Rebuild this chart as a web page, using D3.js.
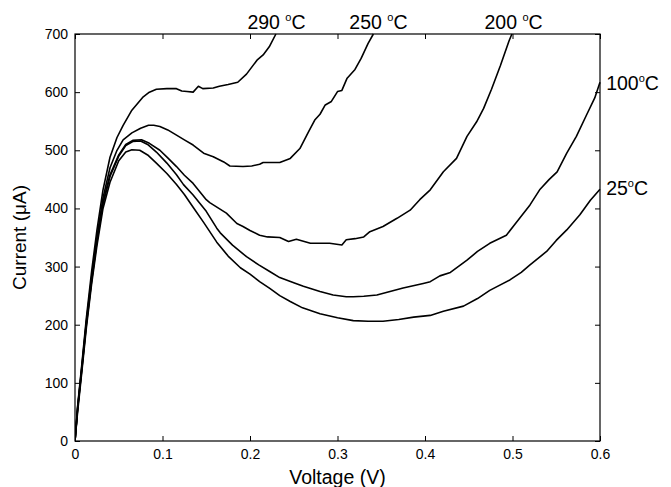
<!DOCTYPE html>
<html>
<head>
<meta charset="utf-8">
<script src="https://cdn.jsdelivr.net/npm/d3@7"></script>
<style>
  body { margin: 0; background: #fff; }
  text { font-family: "Liberation Sans", Arial, sans-serif; fill: #000; }
</style>
</head>
<body>
<div id="chart"></div>
<script>
// data: [voltage (V), current (uA)]
var curve25 = [[0,0],[0.003,50],[0.008,122],[0.013,195],[0.019,270],[0.025,335],[0.032,400],[0.04,445],
  [0.05,482],[0.058,497],[0.065,501],[0.074,500],[0.083,492],[0.093,478],[0.105,460],[0.116,441],
  [0.125,424],[0.135,402],[0.147,376],[0.162,342],[0.175,318],[0.189,298],[0.2,287],[0.211,274],
  [0.223,262],[0.234,250],[0.246,240],[0.26,229],[0.28,219],[0.3,212],[0.318,207],[0.335,206],
  [0.352,206],[0.37,209],[0.387,213],[0.406,216],[0.421,223],[0.444,232],[0.46,245],[0.474,259],
  [0.497,277],[0.51,290],[0.52,303],[0.539,326],[0.55,345],[0.562,363],[0.577,389],[0.589,414],[0.6,433]];

var curve100 = [[0,0],[0.003,55],[0.008,126],[0.013,200],[0.019,275],[0.025,342],[0.032,408],[0.04,455],
  [0.05,490],[0.058,508],[0.066,515],[0.075,516],[0.083,510],[0.093,497],[0.105,478],[0.116,458],
  [0.124,441],[0.135,423],[0.15,395],[0.162,366],[0.166,358],[0.18,337],[0.196,317],[0.21,303],
  [0.223,291],[0.234,281],[0.25,272],[0.261,266],[0.28,257],[0.295,251],[0.31,248],[0.318,248],
  [0.33,249],[0.345,251],[0.36,257],[0.375,263],[0.398,271],[0.406,274],[0.417,284],[0.429,290],
  [0.448,311],[0.46,326],[0.474,340],[0.493,354],[0.505,377],[0.52,406],[0.531,432],[0.542,450],
  [0.551,463],[0.562,495],[0.573,524],[0.585,562],[0.594,590],[0.6,617]];

var curve200 = [[0,0],[0.003,56],[0.008,128],[0.013,203],[0.019,278],[0.025,345],[0.032,410],[0.04,458],
  [0.05,492],[0.058,510],[0.066,517],[0.076,518],[0.085,512],[0.097,500],[0.106,487],[0.116,472],
  [0.125,457],[0.135,443],[0.15,415],[0.154,410],[0.173,392],[0.185,374],[0.192,369],[0.2,362],
  [0.211,354],[0.22,351],[0.234,350],[0.244,343],[0.253,347],[0.269,340],[0.28,340],[0.291,340],
  [0.305,337],[0.31,346],[0.32,348],[0.33,351],[0.337,360],[0.352,369],[0.368,383],[0.383,397],
  [0.394,415],[0.406,432],[0.421,463],[0.436,486],[0.448,524],[0.459,549],[0.467,572],[0.476,605],
  [0.486,645],[0.496,688],[0.4993,700]];

var curve250 = [[0,0],[0.003,58],[0.008,131],[0.013,206],[0.019,282],[0.025,350],[0.032,418],[0.04,470],
  [0.048,500],[0.055,518],[0.065,530],[0.075,538],[0.084,543],[0.09,543],[0.097,541],[0.106,535],
  [0.116,526],[0.125,518],[0.135,509],[0.147,495],[0.158,489],[0.17,480],[0.177,473],[0.192,472],
  [0.202,473],[0.211,476],[0.215,479],[0.234,479],[0.246,486],[0.257,503],[0.267,532],[0.274,552],
  [0.28,562],[0.286,578],[0.293,584],[0.3,601],[0.305,603],[0.311,624],[0.32,639],[0.327,658],
  [0.335,684],[0.341,700]];

var curve290 = [[0,0],[0.003,60],[0.008,135],[0.013,212],[0.019,292],[0.025,362],[0.032,432],[0.04,488],
  [0.048,522],[0.055,543],[0.065,569],[0.078,592],[0.085,600],[0.093,605],[0.105,606],[0.116,606],
  [0.122,602],[0.128,601],[0.135,600],[0.141,610],[0.146,606],[0.158,607],[0.165,610],[0.175,613],
  [0.186,617],[0.196,631],[0.208,655],[0.215,664],[0.222,678],[0.2296,700]];

var xTicks = [0, 0.1, 0.2, 0.3, 0.4, 0.5, 0.6];
var yTicks = [0, 100, 200, 300, 400, 500, 600, 700];

// temperature labels (number part; a raised "o" and "C" follow)
var seriesLabels = ["290 ", "250 ", "200 ", "100", "25"];
var labelPos = [[0.197, 719], [0.3135, 719], [0.468, 719], [0.607, 614], [0.607, 433]];

var margin = {top: 34, right: 71, bottom: 46, left: 75},
    width = 671 - margin.left - margin.right,
    height = 487 - margin.top - margin.bottom;

var svg = d3.select("#chart")
  .append("svg")
    .attr("width", 671)
    .attr("height", 487)
  .append("g")
    .attr("transform", "translate(" + margin.left + "," + margin.top + ")");

var x = d3.scaleLinear().domain([0, 0.6]).range([0, width]);
var y = d3.scaleLinear().domain([0, 700]).range([height, 0]);

svg.append("clipPath").attr("id", "clip")
  .append("rect").attr("x", 0).attr("y", -1).attr("width", width + 1).attr("height", height + 2);

// curves
var line = d3.line()
  .x(function(d) { return x(d[0]); })
  .y(function(d) { return y(d[1]); });

svg.append("g").attr("clip-path", "url(#clip)")
  .selectAll("path")
  .data([curve25, curve100, curve200, curve250, curve290])
  .enter()
  .append("path")
    .attr("d", line)
    .attr("fill", "none")
    .attr("stroke", "black")
    .attr("stroke-width", 1.6)
    .attr("stroke-linejoin", "round");

// axes, ticks pointing inward on all four sides
function styleAxis(g) {
  g.select(".domain").remove();
  g.selectAll("line").attr("stroke", "black");
  g.selectAll("text").style("font-size", "14px").style("font-family", "Liberation Sans, Arial, sans-serif");
}

svg.append("g")
  .attr("transform", "translate(0," + height + ")")
  .call(d3.axisBottom(x).tickValues(xTicks).tickSize(-5).tickPadding(8).tickFormat(d3.format("")))
  .call(styleAxis);

svg.append("g")
  .call(d3.axisTop(x).tickValues(xTicks).tickSize(-5).tickFormat(""))
  .call(styleAxis);

svg.append("g")
  .call(d3.axisLeft(y).tickValues(yTicks).tickSize(-5).tickPadding(7))
  .call(styleAxis);

svg.append("g")
  .attr("transform", "translate(" + width + ",0)")
  .call(d3.axisRight(y).tickValues(yTicks).tickSize(-5).tickFormat(""))
  .call(styleAxis);

svg.append("rect")
  .attr("width", width).attr("height", height)
  .attr("fill", "none").attr("stroke", "black").attr("stroke-width", 1.2);

// axis titles
svg.append("text")
  .attr("x", width / 2).attr("y", height + 43)
  .attr("text-anchor", "middle")
  .style("font-size", "19.5px")
  .text("Voltage (V)");

svg.append("text")
  .attr("transform", "translate(-49," + (height / 2) + ") rotate(-90)")
  .attr("text-anchor", "middle")
  .style("font-size", "19px")
  .text("Current (\u03BCA)");

// temperature labels
var temp = svg.selectAll(".temp")
  .data(seriesLabels)
  .enter()
  .append("text")
    .attr("class", "temp")
    .attr("x", function(d, i) { return x(labelPos[i][0]); })
    .attr("y", function(d, i) { return y(labelPos[i][1]) + 6; })
    .style("font-size", "19.5px");
temp.append("tspan").text(function(d) { return d; });
temp.append("tspan").attr("dy", -8).style("font-size", "11px").text("o");
temp.append("tspan").attr("dy", 8).text("C");
</script>
</body>
</html>
